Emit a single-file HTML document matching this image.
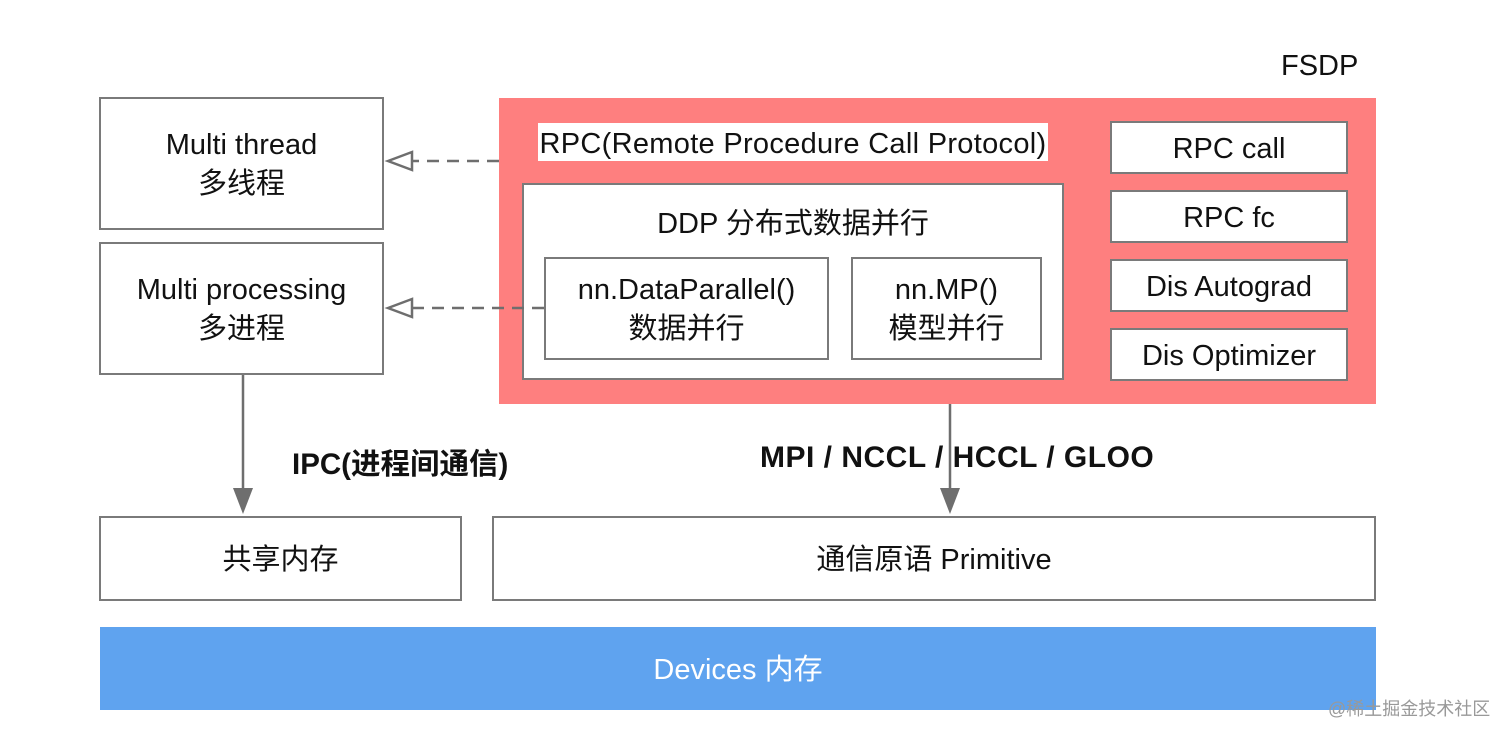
<!DOCTYPE html>
<html><head><meta charset="utf-8"><style>
body{margin:0;width:1512px;height:737px;background:#fff;position:relative;overflow:hidden;font-family:"Liberation Sans","Noto Sans CJK SC",sans-serif;color:#111}
.b{position:absolute;box-sizing:border-box;border:2px solid #7a7a7a;background:#fff;display:flex;flex-direction:column;align-items:center;justify-content:center;text-align:center;font-size:29px;line-height:39px;padding-top:3px}
.t{position:absolute;white-space:nowrap}
</style></head><body>
<div class="t" style="left:1281px;top:50px;font-size:29px">FSDP</div>
<div style="position:absolute;left:499px;top:98px;width:877px;height:306px;background:#fe7f7f"></div>
<div class="t" style="left:538px;top:123px;width:510px;height:38px;background:#fff;font-size:29px;line-height:42px;text-align:center;letter-spacing:0.3px">RPC(Remote Procedure Call Protocol)</div>
<div class="b" style="left:522px;top:183px;width:542px;height:197px;justify-content:flex-start;padding-top:20px">DDP 分布式数据并行</div>
<div class="b" style="left:544px;top:257px;width:285px;height:103px">nn.DataParallel()<br>数据并行</div>
<div class="b" style="left:851px;top:257px;width:191px;height:103px">nn.MP()<br>模型并行</div>
<div class="b" style="left:1110px;top:121px;width:238px;height:53px">RPC call</div>
<div class="b" style="left:1110px;top:190px;width:238px;height:53px">RPC fc</div>
<div class="b" style="left:1110px;top:259px;width:238px;height:53px">Dis Autograd</div>
<div class="b" style="left:1110px;top:328px;width:238px;height:53px">Dis Optimizer</div>
<div class="b" style="left:99px;top:97px;width:285px;height:133px">Multi thread<br>多线程</div>
<div class="b" style="left:99px;top:242px;width:285px;height:133px">Multi processing<br>多进程</div>
<div class="b" style="left:99px;top:516px;width:363px;height:85px">共享内存</div>
<div class="b" style="left:492px;top:516px;width:884px;height:85px">通信原语 Primitive</div>
<div class="b" style="left:100px;top:627px;width:1276px;height:83px;border:none;background:#5fa3ef;color:#fff">Devices 内存</div>
<div class="t" style="left:292px;top:441px;font-size:29.5px;font-weight:bold">IPC(进程间通信)</div>
<div class="t" style="left:760px;top:441px;font-size:30px;font-weight:bold;letter-spacing:0.5px">MPI / NCCL / HCCL / GLOO</div>
<div class="t" style="left:1328px;top:695px;font-size:18px;color:#999">@稀土掘金技术社区</div>
<svg width="1512" height="737" style="position:absolute;left:0;top:0">
<g stroke="#6e6e6e" stroke-width="2.5" fill="none">
<line x1="499" y1="161" x2="412" y2="161" stroke-dasharray="12,8"/>
<polygon points="388,161 412,152 412,170" fill="#fff"/>
<line x1="544" y1="308" x2="412" y2="308" stroke-dasharray="12,8"/>
<polygon points="388,308 412,299 412,317" fill="#fff"/>
<line x1="243" y1="375" x2="243" y2="490"/>
<line x1="950" y1="404" x2="950" y2="490"/>
</g>
<polygon points="233,488 253,488 243,514" fill="#6e6e6e"/>
<polygon points="940,488 960,488 950,514" fill="#6e6e6e"/>
</svg>
</body></html>
